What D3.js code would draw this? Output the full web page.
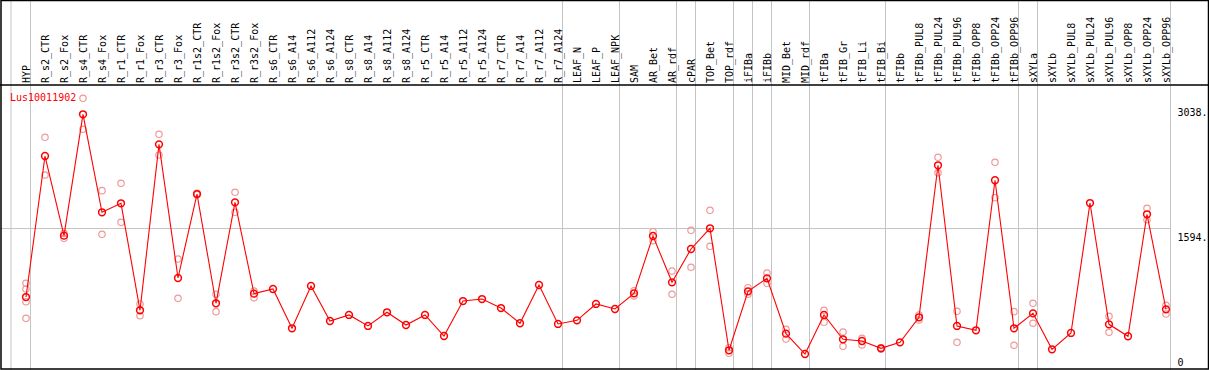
<!DOCTYPE html>
<html>
<head>
<meta charset="utf-8">
<script src="https://cdn.jsdelivr.net/npm/d3@7"></script>
<style>
  body { margin: 0; background: #fff; }
  svg { display: block; }
  text { font-family: "DejaVu Sans Mono", monospace; font-size: 10px; }
</style>
</head>
<body>
<svg id="chart" width="1209" height="370"></svg>
<script>
const geneName = "Lus10011902";

const samples = ["HYP",
  "R_s2_CTR","R_s2_Fox","R_s4_CTR","R_s4_Fox","R_r1_CTR","R_r1_Fox","R_r3_CTR","R_r3_Fox",
  "R_r1s2_CTR","R_r1s2_Fox","R_r3s2_CTR","R_r3s2_Fox",
  "R_s6_CTR","R_s6_A14","R_s6_A112","R_s6_A124","R_s8_CTR","R_s8_A14","R_s8_A112","R_s8_A124",
  "R_r5_CTR","R_r5_A14","R_r5_A112","R_r5_A124","R_r7_CTR","R_r7_A14","R_r7_A112","R_r7_A124",
  "LEAF_N","LEAF_P","LEAF_NPK","SAM","AR_Bet","AR_rdf","cPAR","TOP_Bet","TOP_rdf",
  "iFIBa","iFIBb","MID_Bet","MID_rdf","tFIBa","tFIB_Gr","tFIB_Li","tFIB_Bi","tFIBb",
  "tFIBb_PUL8","tFIBb_PUL24","tFIBb_PUL96","tFIBb_OPP8","tFIBb_OPP24","tFIBb_OPP96",
  "sXYLa","sXYLb","sXYLb_PUL8","sXYLb_PUL24","sXYLb_PUL96","sXYLb_OPP8","sXYLb_OPP24","sXYLb_OPP96"];

const meanExpr = [800, 2429, 1509, 2911, 1779, 1883, 647, 2564, 1020, 1990, 728, 1894, 839,
  893, 439, 928, 523, 593, 466, 624, 477, 593, 350, 754, 777, 673, 497, 939, 489,
  531, 720, 662, 843, 1505, 970, 1355, 1594, 185, 866, 1016, 377, 142, 593, 312, 292, 208, 277,
  566, 2322, 466, 416, 2149, 439, 612, 196, 385, 1886, 485, 347, 1756, 658];

const replicates = [[959, 893, 746, 554],
  [2645, 2210], [1536, 1478], [3096, 2738], [2029, 1525], [2114, 1663], [720, 585], [2680, 2441], [1239, 785],
  [1998, 1982], [832, 631], [2010, 1779], [870, 793],
  [], [], [], [], [], [], [], [], [], [], [], [], [], [], [], [],
  [], [], [], [873, 812], [1555, 1451], [1101, 832], [1571, 1144], [1802, 1386], [215, 150],
  [908, 832], [1078, 959], [427, 315], [], [647, 508], [396, 231], [323, 246], [215, 200], [],
  [593, 535], [2414, 2236], [635, 277], [], [2356, 1948], [631, 243],
  [728, 497], [], [], [], [578, 393], [], [1825, 1693], [705, 604]];

// a grey divider is drawn on the right of these columns
const groupEnds = ["HYP","R_r7_A124","LEAF_NPK","AR_rdf","cPAR","TOP_rdf","iFIBa","iFIBb",
  "MID_rdf","tFIB_Bi","tFIBb_OPP96","sXYLa","sXYLb_OPP96"];

const yTicks = [0, 1594, 3038];

const W = 1209, H = 370;
const headerBottom = 85;

const svg = d3.select("#chart");

const x = d3.scaleBand().domain(samples).range([11.5, 11.5 + 19 * samples.length]);
const y = d3.scaleLinear().domain([0, 3038]).range([366.3, 103.3]);
const px = d => x(d) + 14.5;

// grid
const grid = svg.append("g").attr("stroke", "#c4c4c4").attr("stroke-width", 1);
grid.selectAll(".vline")
  .data([samples[0]].concat(groupEnds))
  .join("line")
  .attr("class", "vline")
  .attr("x1", (d, i) => i == 0 ? x(d) - 0.5 : x(d) + 19)
  .attr("x2", (d, i) => i == 0 ? x(d) - 0.5 : x(d) + 19)
  .attr("y1", 0).attr("y2", H);
grid.append("line")
  .attr("x1", 0).attr("x2", x(samples[samples.length - 1]) + 19)
  .attr("y1", Math.round(y(1594)) + 0.5).attr("y2", Math.round(y(1594)) + 0.5);

// column labels
svg.append("g")
  .selectAll("text")
  .data(samples)
  .join("text")
  .attr("transform", d => `translate(${x(d) + 18.5},${headerBottom - 2}) rotate(-90)`)
  .attr("fill", "#000")
  .text(d => d);

// right axis
const axis = svg.append("g")
  .attr("transform", `translate(${x(samples[samples.length - 1]) + 26},0)`)
  .call(d3.axisRight(y).tickValues(yTicks).tickSize(0).tickPadding(0)
    .tickFormat(d => d == 0 ? "0" : d + "."));
axis.select(".domain").remove();
axis.selectAll("text")
  .attr("font-family", "DejaVu Sans Mono, monospace")
  .attr("font-size", 10)
  .attr("fill", "#000")
  .attr("dy", d => d == 0 ? "-0.1em" : "1.2em");

// replicate points
const repData = [];
replicates.forEach((r, i) => r.forEach(v => repData.push({s: samples[i], v: v})));
svg.append("g")
  .selectAll("circle")
  .data(repData)
  .join("circle")
  .attr("cx", d => px(d.s))
  .attr("cy", d => y(d.v))
  .attr("r", 3.2)
  .attr("fill", "none")
  .attr("stroke", "#ee9a9a")
  .attr("stroke-width", 1.2);

// mean line
const line = d3.line().x((d, i) => px(samples[i])).y(d => y(d));
svg.append("path")
  .datum(meanExpr)
  .attr("d", line)
  .attr("fill", "none")
  .attr("stroke", "#ff0000")
  .attr("stroke-width", 1.1);

svg.append("g")
  .selectAll("circle")
  .data(meanExpr)
  .join("circle")
  .attr("cx", (d, i) => px(samples[i]))
  .attr("cy", d => y(d))
  .attr("r", 3.4)
  .attr("fill", "none")
  .attr("stroke", "#ff0000")
  .attr("stroke-width", 1.5);

// gene name
svg.append("text")
  .attr("x", 10).attr("y", 101)
  .attr("fill", "#ff0000")
  .text(geneName);

// frame
svg.append("line")
  .attr("x1", 0).attr("x2", W)
  .attr("y1", headerBottom).attr("y2", headerBottom)
  .attr("stroke", "#000").attr("stroke-width", 1.5);
svg.append("rect")
  .attr("x", 1).attr("y", 0.5)
  .attr("width", W - 1.5).attr("height", H - 1.5)
  .attr("fill", "none")
  .attr("stroke", "#000").attr("stroke-width", 1.5);
</script>
</body>
</html>
